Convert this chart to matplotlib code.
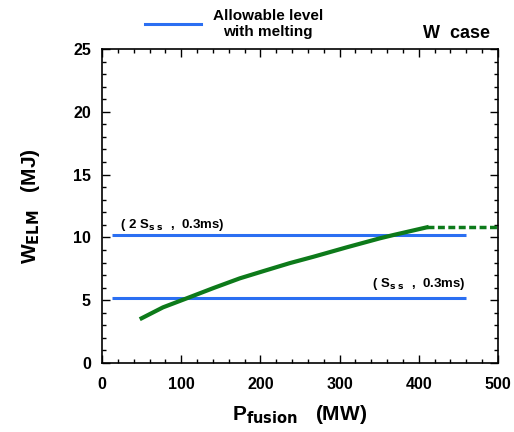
import matplotlib
matplotlib.use("Agg")
import matplotlib.pyplot as plt
import numpy as np

plt.rcParams['font.family'] = ['Liberation Sans', 'DejaVu Sans']
plt.rcParams['font.weight'] = 'bold'

# ELM energy vs fusion power (solid part), and extrapolated dashed part
p_fusion = [50, 77, 107, 140, 174, 204, 237, 267, 309, 351, 368, 410]
w_elm = [3.56, 4.43, 5.15, 5.95, 6.74, 7.32, 7.95, 8.46, 9.21, 9.93, 10.19, 10.8]
p_dash = [410, 500]
w_dash = [10.8, 10.8]

# Allowable levels with melting
level_x = [12, 460]
level_2sss = 10.2
level_sss = 5.2

blue = '#2b6ff2'
green = '#0d7a1a'

fig = plt.figure(figsize=(5.14, 4.32), dpi=100)
ax = fig.add_axes([102/514, 1 - 363/432, 396/514, 314/432])

ax.plot(level_x, [level_2sss, level_2sss], color=blue, lw=2.2, solid_capstyle='butt')
ax.plot(level_x, [level_sss, level_sss], color=blue, lw=2.2, solid_capstyle='butt')
ax.plot(p_fusion, w_elm, color=green, lw=3, solid_joinstyle='round')
ax.plot(p_dash, w_dash, color=green, lw=2.5, ls=(0, (2, 1)), clip_on=False)

ax.set_xlim(0, 500)
ax.set_ylim(0, 25)
ax.set_xticks(np.arange(0, 501, 100))
ax.set_yticks(np.arange(0, 26, 5))
ax.set_xticks(np.arange(0, 501, 20), minor=True)
ax.set_yticks(np.arange(0, 26, 1), minor=True)
ax.tick_params(which='both', direction='in', top=True, right=True, width=1)
ax.tick_params(which='major', length=6, labelsize=11.5)
ax.tick_params(axis='x', which='major', pad=10)
ax.tick_params(axis='y', which='major', pad=8)
ax.tick_params(which='minor', length=3)
for lab in ax.get_xticklabels() + ax.get_yticklabels():
    lab.set_fontweight('bold')
for s in ax.spines.values():
    s.set_linewidth(1.2)

ax.text(23, 10.75, r'( 2 S$_{\mathbf{s\ s}}$  ,  0.3ms)', fontsize=9.5, fontweight='bold',
        ha='left', va='baseline')
ax.text(341, 6.05, r'( S$_{\mathbf{s\ s}}$  ,  0.3ms)', fontsize=9.5, fontweight='bold',
        ha='left', va='baseline')

ax.set_xlabel(r'P$_{\mathbf{fusion}}$   (MW)', fontsize=15, fontweight='bold', labelpad=8)
ax.set_ylabel(r'W$_{\mathbf{ELM}}$   (MJ)', fontsize=15, fontweight='bold', labelpad=22)

# Legend drawn at the top of the figure
fig.add_artist(plt.Line2D([145/514, 201/514], [1 - 24/432, 1 - 24/432], color=blue, lw=2.2))
fig.text(268/514, 1 - 24/432, 'Allowable level\nwith melting', ha='center', va='center',
         fontsize=11, fontweight='bold', linespacing=1.15)
fig.text(490/514, 1 - 34/432, 'W  case', ha='right', va='center', fontsize=13, fontweight='bold')

fig.savefig('out.png', dpi=100)
